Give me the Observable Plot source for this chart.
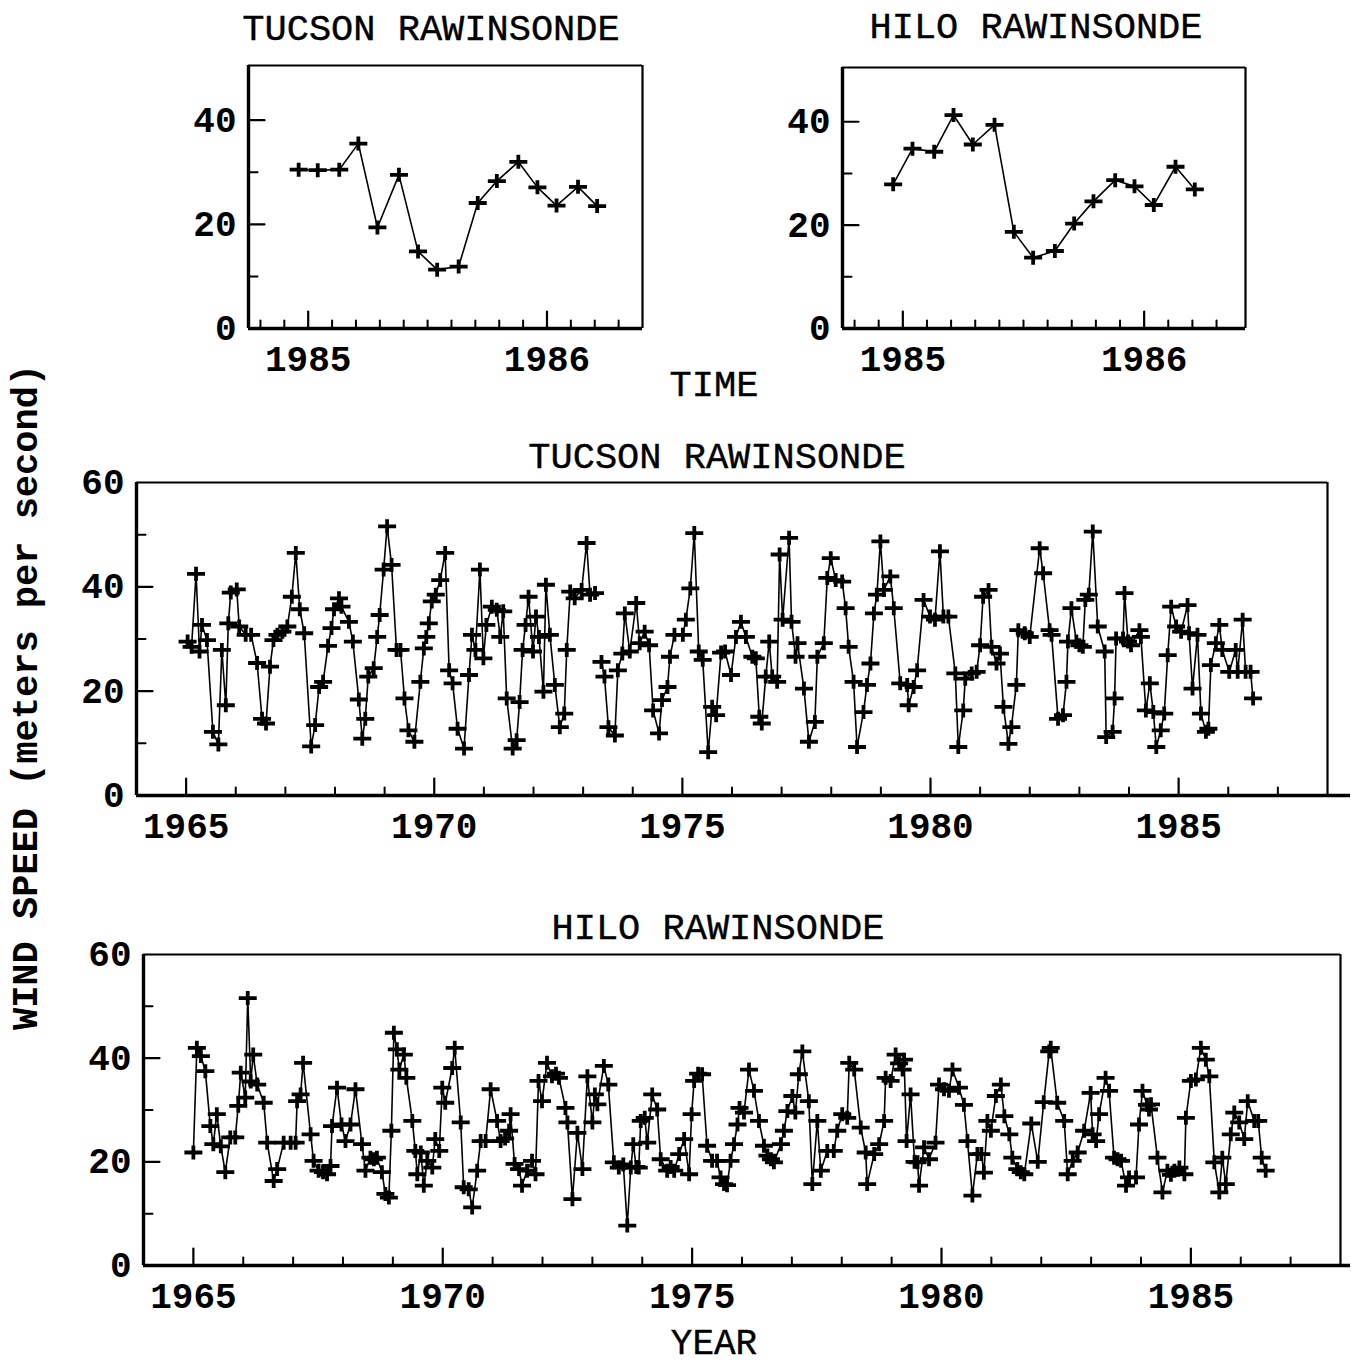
<!DOCTYPE html>
<html>
<head>
<meta charset="utf-8">
<script src="https://cdn.jsdelivr.net/npm/d3@7"></script>
<script src="https://cdn.jsdelivr.net/npm/@observablehq/plot@0.6"></script>
<style>
  body { margin: 0; background: #fff; }
  #page { position: relative; width: 1351px; height: 1367px; overflow: hidden; background: #fff;
          font-family: "Liberation Mono", "DejaVu Sans Mono", monospace; color: #000; }
  .lbl { position: absolute; transform: translate(-50%, -50%); white-space: nowrap; font-size: 37px; line-height: 0.8; }
  .title { font-weight: normal; -webkit-text-stroke: 0.4px #000; }
  .bold { font-weight: bold; }
  .panel { position: absolute; }
  .panel svg { overflow: visible; background: transparent; }
</style>
</head>
<body>
<div id="page"></div>
<script>
// ---- Monthly wind speed, m/s ----
// Tucson rawinsonde, 1965–1986 (null marks the break in the record)
const tucsonYears = [
  1965.03,1965.11,1965.20,1965.27,1965.32,1965.42,1965.54,1965.65,1965.72,1965.80,1965.85,1965.90,
  1966.02,1966.07,1966.20,1966.31,1966.43,1966.53,1966.61,1966.69,1966.76,1966.84,1966.94,
  1967.04,1967.13,1967.21,1967.29,1967.38,1967.52,1967.60,1967.68,1967.76,1967.86,1967.93,1967.98,
  1968.08,1968.13,1968.28,1968.36,1968.48,1968.55,1968.61,1968.67,1968.78,1968.85,1968.90,1968.98,
  1969.05,1969.14,1969.24,1969.32,1969.40,1969.48,1969.60,1969.72,1969.79,1969.84,1969.89,1969.95,
  1970.03,1970.12,1970.22,1970.30,1970.37,1970.47,1970.60,1970.70,1970.76,1970.83,1970.92,1970.99,
  1971.05,1971.16,1971.26,1971.33,1971.39,1971.46,1971.58,1971.66,1971.72,1971.78,1971.84,1971.90,1971.99,
  1972.05,1972.11,1972.20,1972.25,1972.33,1972.43,1972.53,1972.62,1972.67,1972.74,1972.83,1972.97,
  1973.07,1973.14,1973.24,1973.30,1973.37,1973.43,1973.51,1973.64,1973.70,1973.79,1973.84,1973.94,
  1974.07,1974.14,1974.24,1974.33,1974.41,1974.53,1974.59,1974.70,1974.75,1974.84,
  1975.01,1975.07,1975.16,1975.24,1975.33,1975.41,1975.52,1975.60,1975.68,1975.78,1975.86,1975.98,
  1976.08,1976.18,1976.28,1976.41,1976.48,1976.55,1976.60,1976.68,1976.75,1976.81,1976.91,1976.96,
  1977.02,1977.15,1977.20,1977.28,1977.32,1977.45,1977.55,1977.67,1977.72,1977.85,1977.92,1977.99,
  1978.09,1978.22,1978.29,1978.35,1978.45,1978.52,1978.65,1978.72,1978.79,1978.86,1978.92,1978.99,
  1979.06,1979.19,1979.26,1979.39,1979.53,1979.56,1979.66,1979.73,1979.86,1979.99,
  1980.09,1980.19,1980.26,1980.36,1980.50,1980.56,1980.66,1980.70,1980.83,1980.93,
  1981.00,1981.06,1981.17,1981.23,1981.33,1981.40,1981.47,1981.57,1981.63,1981.73,1981.77,1981.90,
  1982.00,1982.20,1982.27,1982.40,1982.44,1982.57,1982.67,1982.74,1982.77,1982.84,1982.94,
  1983.00,1983.07,1983.12,1983.19,1983.27,1983.37,1983.51,1983.54,1983.67,1983.71,1983.74,1983.88,1983.91,1983.98,
  1984.04,1984.21,1984.24,1984.34,1984.42,1984.49,1984.55,1984.64,1984.71,1984.78,1984.85,1984.95,
  1985.05,1985.18,1985.21,1985.28,1985.38,1985.45,1985.55,1985.60,1985.65,1985.75,1985.82,1985.88,
  1986.02,1986.15,1986.19,1986.29,1986.35,1986.45,1986.50
];
const tucsonSpeeds = [
  29.5,28.5,42.5,27.6,32.7,29.8,12.2,9.8,27.9,17.3,33.0,38.9,
  39.5,32.4,30.8,30.8,25.4,14.7,13.8,24.7,29.8,30.8,31.4,
  32.4,38.1,46.5,35.7,31.1,9.4,13.5,20.8,21.8,28.7,32.1,35.7,
  37.8,36.2,33.3,29.5,18.4,10.9,14.7,22.8,24.4,30.4,34.6,43.3,
  51.6,44.2,27.9,27.9,18.6,12.5,10.3,21.8,28.2,30.4,33.0,37.2,
  38.5,41.3,46.5,24.0,21.5,12.8,9.0,23.1,30.8,27.9,43.3,26.3,
  32.7,36.2,35.6,30.4,35.3,18.6,9.0,10.6,17.9,27.9,32.7,38.1,27.6,
  34.3,30.4,19.9,40.4,30.8,21.2,13.1,15.7,27.9,39.1,37.8,39.4,
  48.4,38.5,38.8,null,25.6,22.8,13.1,11.5,24.0,27.2,34.9,27.6,
  36.9,29.2,31.4,28.8,16.3,11.9,18.3,20.8,26.6,30.8,
  30.8,33.7,39.7,50.3,27.6,26.0,8.3,17.0,15.4,27.4,27.6,23.1,
  30.4,33.3,30.4,26.6,26.3,15.1,13.8,22.8,29.5,22.8,21.8,46.2,
  33.7,49.4,33.3,26.6,29.2,20.5,10.3,14.1,26.6,29.2,41.7,45.5,
  41.3,41.0,35.9,28.5,21.8,9.3,16.0,21.2,25.3,34.9,38.5,48.7,
  39.4,42.0,35.9,21.5,21.2,17.3,20.8,24.0,37.5,34.3,
  33.7,46.8,34.3,34.3,23.4,9.3,16.3,22.4,23.4,23.7,
  28.8,38.1,39.4,28.5,25.3,27.2,17.0,9.9,13.1,21.2,31.7,31.1,
  30.4,47.4,42.6,31.7,30.8,14.7,15.4,21.8,29.5,35.9,29.5,
  28.8,28.5,37.5,38.5,50.6,32.4,27.6,11.2,12.2,18.6,30.1,30.1,38.8,29.5,
  28.8,31.7,30.4,16.3,21.5,16.0,9.3,12.5,15.7,26.9,36.2,32.4,
  31.4,36.5,31.1,20.5,30.8,15.7,12.2,12.8,25.0,29.2,32.7,27.9,
  23.7,27.9,23.7,33.7,23.7,23.7,18.6
];

// Hilo rawinsonde, 1965–1986
const hiloYears = [
  1965.00,1965.07,1965.15,1965.24,1965.34,1965.40,1965.47,1965.55,1965.64,1965.74,1965.84,1965.90,1965.95,
  1966.04,1966.09,1966.15,1966.20,1966.28,1966.41,1966.48,1966.61,1966.68,1966.81,1966.95,
  1967.05,1967.08,1967.15,1967.20,1967.35,1967.41,1967.51,1967.60,1967.68,1967.75,1967.78,1967.88,1967.97,
  1968.05,1968.15,1968.25,1968.38,1968.45,1968.55,1968.62,1968.68,1968.78,1968.85,1968.92,1968.97,
  1969.02,1969.08,1969.13,1969.22,1969.27,1969.39,1969.45,1969.49,1969.56,1969.62,1969.69,1969.79,1969.85,1969.93,1969.99,
  1970.05,1970.19,1970.24,1970.36,1970.42,1970.52,1970.59,1970.69,1970.76,1970.86,1970.96,
  1971.09,1971.16,1971.25,1971.33,1971.36,1971.44,1971.53,1971.59,1971.69,1971.79,1971.86,1971.92,1971.99,
  1972.09,1972.19,1972.27,1972.33,1972.46,1972.50,1972.60,1972.70,1972.80,1972.90,
  1973.00,1973.05,1973.10,1973.23,1973.32,1973.43,1973.53,1973.62,1973.70,1973.77,1973.82,1973.88,1973.93,1973.97,
  1974.05,1974.10,1974.20,1974.30,1974.37,1974.50,1974.57,1974.64,1974.74,1974.84,1974.94,1974.99,
  1975.04,1975.12,1975.20,1975.30,1975.40,1975.50,1975.57,1975.64,1975.70,1975.77,1975.84,1975.91,1975.95,
  1976.04,1976.14,1976.24,1976.34,1976.44,1976.51,1976.58,1976.64,1976.78,1976.84,1976.91,
  1977.01,1977.07,1977.14,1977.21,1977.34,1977.41,1977.51,1977.58,1977.71,1977.84,1977.91,
  1978.01,1978.11,1978.15,1978.25,1978.38,1978.48,1978.51,1978.65,1978.75,1978.85,1978.88,1978.98,
  1979.08,1979.15,1979.22,1979.25,1979.30,1979.38,1979.46,1979.52,1979.55,1979.65,1979.75,1979.88,1979.95,
  1980.05,1980.15,1980.22,1980.35,1980.45,1980.52,1980.62,1980.72,1980.80,1980.85,1980.92,1980.99,
  1981.09,1981.19,1981.26,1981.36,1981.42,1981.52,1981.59,1981.66,1981.80,1981.93,
  1982.05,1982.16,1982.19,1982.32,1982.46,1982.53,1982.63,1982.73,1982.86,1982.99,
  1983.03,1983.10,1983.16,1983.29,1983.36,1983.46,1983.53,1983.60,1983.70,1983.76,1983.90,1983.96,
  1984.03,1984.12,1984.16,1984.20,1984.33,1984.43,1984.53,1984.60,1984.67,1984.77,1984.87,1984.90,
  1985.00,1985.10,1985.20,1985.30,1985.37,1985.47,1985.57,1985.63,1985.70,1985.80,1985.87,1985.97,
  1986.07,1986.14,1986.27,1986.35,1986.42,1986.50
];
const hiloSpeeds = [
  21.8,42.0,40.4,37.5,26.9,23.4,29.2,23.0,18.0,24.7,24.7,30.8,37.2,
  32.4,51.6,35.5,40.7,34.9,31.4,23.7,16.3,18.6,23.7,23.7,
  23.7,31.7,33.0,39.1,25.3,20.2,18.3,18.0,17.6,19.2,26.9,34.3,27.2,
  24.0,27.2,34.0,23.4,18.3,20.8,20.5,20.8,18.0,13.8,13.1,26.0,
  44.9,41.7,37.8,40.7,36.2,27.9,22.1,17.6,21.8,15.4,20.2,18.9,24.4,22.1,34.3,
  31.4,38.1,42.0,27.6,15.1,14.7,11.2,18.3,24.0,24.0,34.0,
  27.9,24.0,24.5,26.0,29.2,19.6,18.6,15.4,18.3,20.2,17.6,35.6,31.7,
  39.1,36.5,37.0,36.2,30.4,27.6,12.8,25.6,18.6,36.5,
  27.6,33.0,31.1,38.5,34.9,19.9,18.9,19.5,7.7,18.9,23.4,19.0,18.9,27.9,
  28.5,23.7,33.0,30.1,20.5,18.3,19.0,18.3,21.5,24.4,17.6,29.2,
  35.6,37.0,36.9,23.1,20.2,20.2,17.0,15.7,15.5,20.2,23.4,27.2,30.4,
  29.5,37.8,33.7,27.9,23.1,21.2,20.5,19.9,23.4,26.0,29.8,
  32.7,29.5,36.9,41.3,31.7,15.7,27.9,18.3,22.1,22.1,26.0,
  29.2,28.5,39.1,37.8,26.6,21.8,15.7,21.5,23.4,27.9,36.2,35.6,
  40.7,39.0,37.8,39.7,24.0,33.0,20.0,19.9,15.4,22.8,20.5,23.7,34.9,
  34.0,33.7,37.8,34.3,31.0,24.0,13.5,21.5,21.5,17.9,27.9,26.0,
  32.7,34.9,28.8,25.3,20.8,18.6,18.0,17.6,27.4,20.0,
  31.5,41.3,42.0,31.4,27.9,17.6,20.2,21.8,26.0,33.3,
  25.3,24.0,29.2,36.2,33.7,20.8,20.5,20.2,15.4,17.0,17.0,27.2,
  33.7,31.0,30.1,31.1,20.8,14.1,18.3,17.5,18.3,18.9,17.6,28.5,
  35.6,35.9,42.0,39.7,36.5,19.9,14.1,20.8,15.7,25.3,29.5,27.6,
  24.4,31.7,27.9,27.9,20.8,18.3
];

// Close-up of the last sixteen months (Dec 1984 – Mar 1986)
const recentMonths = [1984.96,1985.04,1985.13,1985.21,1985.29,1985.38,1985.46,1985.54,
                      1985.63,1985.71,1985.79,1985.88,1985.96,1986.04,1986.13,1986.21];
const tucsonRecent = [30.5,30.4,30.5,35.5,19.4,29.5,14.8,11.3,11.9,24.1,28.3,32.0,27.1,23.6,27.2,23.5];
const hiloRecent   = [27.9,34.8,34.2,41.3,35.6,39.4,18.7,13.7,15.0,20.3,24.6,28.7,27.5,23.9,31.3,26.9];

// Axis ticks
const longYearLabels = [1965, 1970, 1975, 1980, 1985];
const longYearMinor  = [1966,1967,1968,1969,1971,1972,1973,1974,1976,1977,1978,1979,1981,1982,1983,1984,1986,1987];
const longSpeedLabels = [0, 20, 40, 60];
const longSpeedMajor  = [20, 40];
const longSpeedMinor  = [10, 30, 50];
const shortYearLabels = [1985, 1986];
const shortYearMinor  = [1984.8,1984.9,1985.1,1985.2,1985.3,1985.4,1985.5,1985.6,1985.7,1985.8,1985.9,
                         1986.1,1986.2,1986.3];
const shortSpeedLabels = [0, 20, 40];
const shortSpeedMinor  = [10, 30];

// ---- drawing helpers ----
const rows = (xs, vs) => xs.map((t, i) => ({t, v: vs[i]}));

// wide plus marker used for every observation
const plus = {
  draw(ctx) {
    ctx.moveTo(-9, 0); ctx.lineTo(9, 0);
    ctx.moveTo(0, -7); ctx.lineTo(0, 7);
  }
};
// straight tick drawn from the frame inward
const tickShape = { draw(ctx, l) { ctx.moveTo(0, 0); ctx.lineTo(0, -l); } };

const page = document.getElementById("page");

function panel(cfg) {
  const {left, top, width, height, mt, mr, mb, ml, xDomain, yDomain, data,
         xLabels, xMinor, yLabels, yMajor, yMinor, extend} = cfg;
  const chart = Plot.plot({
    width, height,
    marginTop: mt, marginRight: mr, marginBottom: mb, marginLeft: ml,
    x: {domain: xDomain},
    y: {domain: yDomain},
    style: {
      background: "transparent", overflow: "visible", color: "black",
      fontFamily: "'Liberation Mono', 'DejaVu Sans Mono', monospace",
      fontSize: "36px", fontWeight: "bold"
    },
    marks: [
      // frame: heavy left/bottom, lighter top/right
      Plot.ruleY([yDomain[1]], {stroke: "black", strokeWidth: 2.2}),
      Plot.ruleX([xDomain[1]], {stroke: "black", strokeWidth: 2.2}),
      Plot.ruleY([yDomain[0]], {stroke: "black", strokeWidth: 3.4, insetRight: -extend}),
      Plot.ruleX([xDomain[0]], {stroke: "black", strokeWidth: 3.4}),
      // inward ticks
      Plot.vector(xLabels, {x: d => d, frameAnchor: "bottom", length: 17, anchor: "start",
                            shape: tickShape, stroke: "black", strokeWidth: 2.2}),
      Plot.vector(xMinor, {x: d => d, frameAnchor: "bottom", length: 8, anchor: "start",
                           shape: tickShape, stroke: "black", strokeWidth: 2}),
      Plot.vector(yMajor, {y: d => d, frameAnchor: "left", rotate: 90, length: 16, anchor: "start",
                           shape: tickShape, stroke: "black", strokeWidth: 2.2}),
      Plot.vector(yMinor, {y: d => d, frameAnchor: "left", rotate: 90, length: 9, anchor: "start",
                           shape: tickShape, stroke: "black", strokeWidth: 2}),
      // tick labels
      Plot.axisX(xLabels, {tickSize: 0, tickPadding: 17, tickFormat: d => String(d), label: null}),
      Plot.axisY(yLabels, {tickSize: 0, tickPadding: 12, tickFormat: d => String(d), label: null}),
      // series
      Plot.line(data, {x: "t", y: "v", stroke: "black", strokeWidth: 1.6}),
      Plot.dot(data, {x: "t", y: "v", symbol: plus, fill: "none", stroke: "black", strokeWidth: 3.8})
    ]
  });
  const holder = document.createElement("div");
  holder.className = "panel";
  holder.style.left = left + "px";
  holder.style.top = top + "px";
  holder.appendChild(chart);
  page.appendChild(holder);
}

function label(text, x, y, cls, rotate, size) {
  const el = document.createElement("div");
  el.className = "lbl " + cls;
  el.textContent = text;
  el.style.left = x + "px";
  el.style.top = y + "px";
  if (size) el.style.fontSize = size + "px";
  if (rotate) el.style.transform = `translate(-50%, -50%) rotate(${rotate}deg)`;
  page.appendChild(el);
}

// close-ups, 1985–1986
panel({left: 140, top: 45, width: 540, height: 335, mt: 20, mr: 38, mb: 52, ml: 108,
       xDomain: [1984.75, 1986.4], yDomain: [0, 50.5], data: rows(recentMonths, tucsonRecent),
       xLabels: shortYearLabels, xMinor: shortYearMinor,
       yLabels: shortSpeedLabels, yMajor: [20, 40], yMinor: shortSpeedMinor, extend: 0});
panel({left: 730, top: 45, width: 550, height: 335, mt: 22, mr: 35, mb: 52, ml: 112,
       xDomain: [1984.75, 1986.42], yDomain: [0, 50.5], data: rows(recentMonths, hiloRecent),
       xLabels: shortYearLabels, xMinor: shortYearMinor,
       yLabels: shortSpeedLabels, yMajor: [20, 40], yMinor: shortSpeedMinor, extend: 0});

// full records, 1965–1986
panel({left: 50, top: 462, width: 1301, height: 390, mt: 20, mr: 24, mb: 57, ml: 86,
       xDomain: [1964, 1988], yDomain: [0, 60], data: rows(tucsonYears, tucsonSpeeds),
       xLabels: longYearLabels, xMinor: longYearMinor,
       yLabels: longSpeedLabels, yMajor: longSpeedMajor, yMinor: longSpeedMinor, extend: 23});
panel({left: 50, top: 940, width: 1301, height: 380, mt: 14, mr: 11, mb: 55, ml: 93,
       xDomain: [1964, 1988], yDomain: [0, 60], data: rows(hiloYears, hiloSpeeds),
       xLabels: longYearLabels, xMinor: longYearMinor,
       yLabels: longSpeedLabels, yMajor: longSpeedMajor, yMinor: longSpeedMinor, extend: 10});

// titles and axis names
label("TUCSON RAWINSONDE", 431, 31, "title");
label("HILO RAWINSONDE", 1036, 29, "title");
label("TIME", 714, 387, "title");
label("TUCSON RAWINSONDE", 717, 459, "title");
label("HILO RAWINSONDE", 718, 930, "title");
label("YEAR", 714, 1345, "title", 0, 36);
label("WIND SPEED (meters per second)", 28, 697, "bold", -90);
</script>
</body>
</html>
